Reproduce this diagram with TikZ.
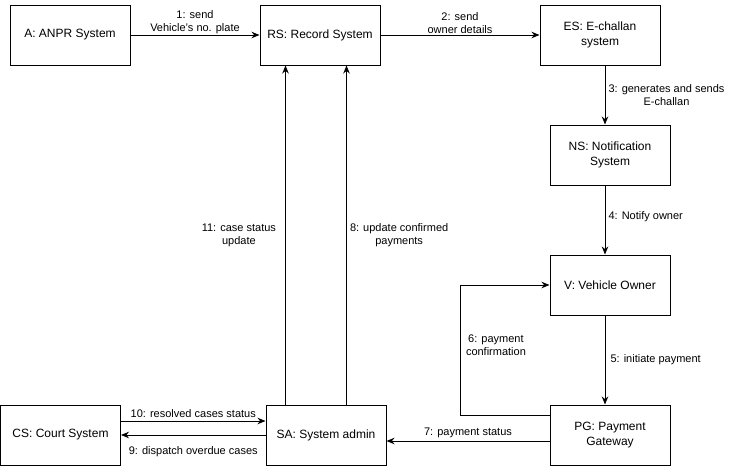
\documentclass[tikz,border=0pt]{standalone}
\usepackage{fontspec}
\setmainfont{Liberation Sans}
\usetikzlibrary{arrows.meta}

\begin{document}
\begin{tikzpicture}[
  x=1pt, y=-1pt,
  line width=1pt,
  >={Stealth[length=8pt, width=6.5pt]},
  object node/.style={
    draw, rectangle, minimum width=120pt, minimum height=60pt,
    align=center, inner sep=2pt, font=\fontsize{12}{14.5}\selectfont
  },
  message node/.style={
    align=center, inner sep=3pt, font=\fontsize{11}{13}\selectfont
  }
  ]
  \useasboundingbox (0,0) rectangle (736,466);

  \node[object node] (anpr) at (70,35) {A: ANPR System};
  \node[object node] (rs) at (320,35) {RS: Record System};
  \node[object node] (es) at (600,35) {ES: E-challan\\system};
  \node[object node] (ns) at (610,155) {NS: Notification\\System};
  \node[object node] (v) at (610,285) {V: Vehicle Owner};
  \node[object node] (pg) at (610,435) {PG: Payment\\Gateway};
  \node[object node] (sa) at (326,435) {SA: System admin};
  \node[object node] (cs) at (60.5,435) {CS: Court System};

  \draw[->] (anpr) -- (rs)
    node[midway, above=-2pt, message node] {1: send\\Vehicle's no. plate};
  \draw[->] (rs) -- (es)
    node[midway, above=-2pt, message node] {2: send\\owner details};
  \draw[->] ([xshift=5]es.south) -- ([xshift=5]es.south |- ns.north)
    node[midway, right, message node] {3: generates and sends\\E-challan};
  \draw[->] ([xshift=-5]ns.south) -- ([xshift=-5]ns.south |- v.north)
    node[pos=0.45, right, message node] {4: Notify owner};
  \draw[->] ([xshift=-5]v.south) -- ([xshift=-5]v.south |- pg.north)
    node[midway, right=2pt, message node] {5: initiate payment};
  \draw[->] ([yshift=20]pg.west) -- ++(-89,0) coordinate (loop corner) |- (v.west)
    node[pos=0.27, right=2pt, message node] {6: payment\\confirmation};
  \draw[->] ([yshift=-6]pg.west) -- ([yshift=-6]pg.west -| sa.east)
    node[midway, above, message node] {7: payment status};
  \draw[->] ([xshift=81]sa.north west) -- ([xshift=81]sa.north west |- rs.south)
    node[midway, right, message node] {8: update confirmed\\payments};
  \draw[->] (sa) -- (cs)
    node[midway, below=8pt, message node] {9: dispatch overdue cases};
  \draw[->] ([yshift=14]cs.east) -- ([yshift=14]cs.east -| sa.west)
    node[midway, above, message node] {10: resolved cases status};
  \draw[->] ([xshift=20]sa.north west) -- ([xshift=20]sa.north west |- rs.south)
    node[midway, left=6pt, message node] {11: case status\\update};
\end{tikzpicture}
\end{document}
